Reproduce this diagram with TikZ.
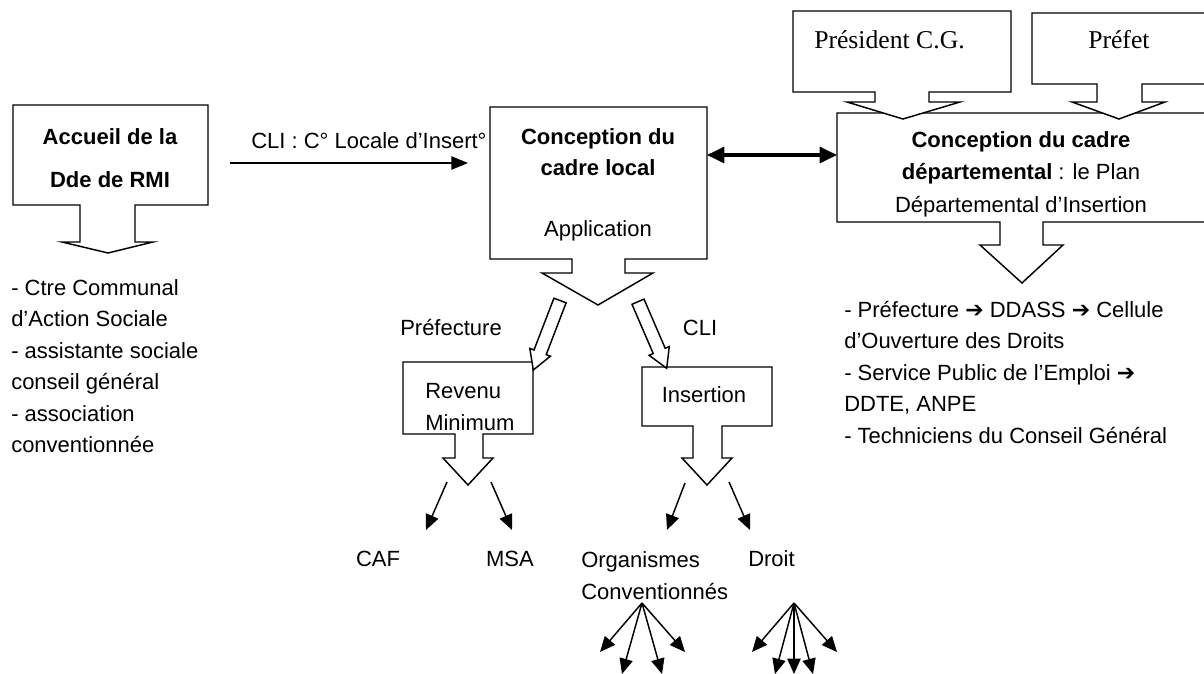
\documentclass[tikz,border=0pt]{standalone}
\usepackage{fontspec}
\setmainfont{Liberation Sans}
\newfontfamily\timesfont{Liberation Serif}
\newfontfamily\dingfont{DejaVu Sans}
\usepackage{tikz}
\usetikzlibrary{arrows.meta}
\newcommand{\thenarrow}{{\dingfont\char"2794}}

\tikzset{
  callout/.style={draw, fill=white, line width=1.1pt, line join=miter},
  txt/.style={inner sep=0.75pt, font=\fontsize{16.5}{23.6}\selectfont},
  serif txt/.style={inner sep=0.75pt, font=\timesfont\fontsize{19.25}{23}\selectfont},
  thinarrow/.style={line width=1.1pt, -{Triangle[length=11.5pt,width=10pt]}},
  bigarrow/.style={line width=2.3pt, {Triangle[length=13pt,width=12pt]}-{Triangle[length=13pt,width=12pt]}},
}

\begin{document}
\begin{tikzpicture}[x=0.75pt,y=0.75pt,yscale=-1,xscale=1]
\useasboundingbox (0,0) rectangle (1204,674);
\clip (0,0) rectangle (1204,674);

%Shape: Callout [accueil]
\draw[callout] (13,105) -- (208,105) -- (208,205) -- (135,205) -- (135,242) -- (153,242) -- (108,253) -- (62,242) -- (80,242) -- (80,205) -- (13,205) -- cycle ;
%Shape: Callout [cadre local]
\draw[callout] (490,107) -- (707,107) -- (707,259) -- (625,259) -- (625,273) -- (653,273) -- (598,305) -- (542,273) -- (572,273) -- (572,259) -- (490,259) -- cycle ;
%Shape: Callout [cadre departemental]
\draw[callout] (837,113) -- (1215,113) -- (1215,222) -- (1043,222) -- (1043,245) -- (1063,245) -- (1022,283) -- (980,245) -- (1000,245) -- (1000,222) -- (837,222) -- cycle ;
%Shape: Callout [president]
\draw[callout] (793,11) -- (1011,11) -- (1011,92) -- (929,92) -- (929,102) -- (960,102) -- (903,119) -- (847,102) -- (875,102) -- (875,92) -- (793,92) -- cycle ;
%Shape: Callout [prefet]
\draw[callout] (1032,13) -- (1215,13) -- (1215,84) -- (1142,84) -- (1142,102) -- (1165,102) -- (1119,119) -- (1072,102) -- (1097,102) -- (1097,84) -- (1032,84) -- cycle ;
%Shape: Callout [revenu]
\draw[callout] (403,362) -- (533,362) -- (533,434) -- (483,434) -- (483,458) -- (493,458) -- (468,485) -- (443,458) -- (455,458) -- (455,434) -- (403,434) -- cycle ;
%Shape: Callout [insertion]
\draw[callout] (642,367) -- (772,367) -- (772,426) -- (722,426) -- (722,458) -- (732,458) -- (707,485) -- (682,458) -- (693,458) -- (693,426) -- (642,426) -- cycle ;

%Shape: Block Arrow [prefecture]
\draw[callout] (553.9,298.2) -- (566.1,302.8) -- (546.2,354.6) -- (550.4,356.2) -- (533.3,370) -- (529.8,348.4) -- (534.0,350.0) -- cycle ;
%Shape: Block Arrow [cli]
\draw[callout] (644.0,299.1) -- (632.0,304.3) -- (653.2,353.5) -- (649.1,355.3) -- (666.7,368.3) -- (669.3,346.5) -- (665.2,348.3) -- cycle ;

% Connector ends
\coordinate (cliS) at (230,163);
\coordinate (cliE) at (468,163);
\coordinate (localE) at (707,155);
\coordinate (deptW) at (837,155);
\coordinate (revL) at (447,482);
\coordinate (revR) at (491,482);
\coordinate (insL) at (685,483);
\coordinate (insR) at (729,482);
\coordinate (cafA) at (426,530);
\coordinate (msaA) at (512,530);
\coordinate (orgA) at (667,530);
\coordinate (droitA) at (750,530);
\coordinate (orgF) at (642,603);
\coordinate (droitF) at (794,603);

%Straight Lines
\draw[line width=1.1pt, -{Triangle[length=12.5pt,width=10pt]}] (cliS) -- (cliE) ;
%Straight Lines
\draw[bigarrow] (localE) -- (deptW) ;
%Straight Lines
\draw[thinarrow] (revL) -- (cafA) ;
\draw[thinarrow] (revR) -- (msaA) ;
\draw[thinarrow] (insL) -- (orgA) ;
\draw[thinarrow] (insR) -- (droitA) ;
%Straight Lines [fans]
\draw[thinarrow] (orgF) -- (600,652) ;
\draw[thinarrow] (orgF) -- (622,674) ;
\draw[thinarrow] (orgF) -- (662,674) ;
\draw[thinarrow] (orgF) -- (685,652) ;
\draw[thinarrow] (droitF) -- (752,652) ;
\draw[thinarrow] (droitF) -- (775,674) ;
\draw[thinarrow] (droitF) -- (794,674) ;
\draw[thinarrow] (droitF) -- (813,674) ;
\draw[thinarrow] (droitF) -- (837,652) ;

% Text Node
\draw (110,127) node [anchor=north][txt][align=center][font=\bfseries\fontsize{16.5}{32.25}\selectfont] (accueil) {Accueil de la\\Dde de RMI};
% Text Node
\draw (250,148) node [anchor=base west][txt] (clitxt) {CLI : C° Locale d’Insert°};
% Text Node
\draw (598,127) node [anchor=north][txt][align=center][font=\bfseries\fontsize{16.5}{23.25}\selectfont] (local) {Conception du\\cadre local};
% Text Node
\draw (598,236) node [anchor=base][txt] (application) {Application};
% Text Node
\draw (813,48.5) node [anchor=base west][serif txt] (president) {Président C.G.};
% Text Node
\draw (1087,48.5) node [anchor=base west][serif txt] (prefet) {Préfet};
% Text Node
\draw (1021,130) node [anchor=north][txt][align=center][font=\fontsize{16.5}{24.4}\selectfont] (dept) {\textbf{Conception du cadre}\\\textbf{départemental} : le Plan\\Départemental d’Insertion};
% Text Node
\draw (10,278) node [anchor=north west][txt][align=left] (guichets) {- Ctre Communal\\d’Action Sociale\\- assistante sociale\\conseil général\\- association\\conventionnée};
% Text Node
\draw (843,300) node [anchor=north west][txt][align=left] (acteurs) {- Préfecture \thenarrow{} DDASS \thenarrow{} Cellule\\d’Ouverture des Droits\\- Service Public de l’Emploi \thenarrow\\DDTE, ANPE\\- Techniciens du Conseil Général};
% Text Node
\draw (451,335) node [anchor=base][txt] (preflbl) {Préfecture};
% Text Node
\draw (700,335) node [anchor=base][txt] (clilbl) {CLI};
% Text Node
\draw (424,382) node [anchor=north west][txt][align=left][font=\fontsize{16.5}{24}\selectfont] (revenu) {Revenu\\Minimum};
% Text Node
\draw (704,402) node [anchor=base][txt] (insertion) {Insertion};
% Text Node
\draw (378,566) node [anchor=base][txt] (caf) {CAF};
% Text Node
\draw (510,566) node [anchor=base][txt] (msa) {MSA};
% Text Node
\draw (580,550) node [anchor=north west][txt][align=left][font=\fontsize{16.5}{24}\selectfont] (organismes) {Organismes\\Conventionnés};
% Text Node
\draw (747,566) node [anchor=base west][txt] (droit) {Droit};

\end{tikzpicture}
\end{document}
